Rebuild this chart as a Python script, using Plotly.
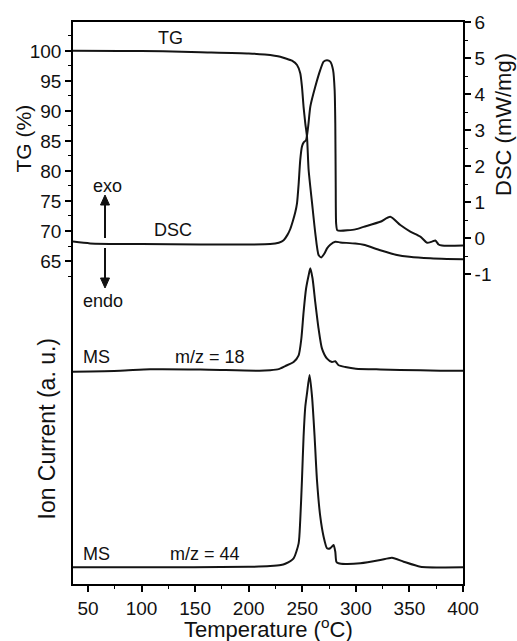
import plotly.graph_objects as go

# ---------------- data ----------------
tg_temp = [36, 80, 120, 155, 200, 215, 229.5, 234.1, 240.4, 245.1, 248.1, 249.7, 251.2,
           252.8, 254.4, 255.9, 259.1, 262.1, 265.2, 267.7, 270.5, 273.1, 276.1, 280.8,
           285.5, 299.5, 307.2, 322.8, 338.4, 350, 369.5, 385, 400]
tg_mass = [100.05, 100.0, 99.95, 99.8, 99.6, 99.4, 99.05, 98.78, 98.38, 97.67, 96.28, 94.05, 90.7,
           87.95, 85.7, 80.2, 74.7, 69.7, 66.0, 65.6, 66.2, 67.1, 67.7, 68.2,
           68.1, 67.9, 67.7, 66.8, 66.0, 65.7, 65.45, 65.35, 65.3]

dsc_temp = [36, 52, 100, 155, 200, 220, 228, 232.6, 236, 238.8, 241, 243.5, 245.1, 246.6,
            248.1, 249.7, 251.2, 253.5, 255.5, 257.5, 262.1, 266.8, 269.9, 273.1, 276.1,
            278.7, 280.2, 280.8, 281.2, 281.6, 282.6, 285.5, 299.5, 307.2, 322.8, 332.1,
            341.5, 350.8, 360.2, 366.4, 371.1, 374.2, 377.2, 380.4, 400]
dsc_heat = [-0.10, -0.15, -0.17, -0.18, -0.18, -0.17, -0.13, -0.06, 0.08, 0.25, 0.45, 0.72, 0.97, 1.5,
            2.17, 2.54, 2.65, 2.72, 3.1, 3.65, 4.20, 4.67, 4.90, 4.94, 4.90,
            4.67, 4.11, 3.19, 1.5, 0.4, 0.22, 0.20, 0.24, 0.31, 0.45, 0.59,
            0.36, 0.18, 0.04, -0.13, -0.10, -0.07, -0.18, -0.21, -0.21]

ms18_temp = [36, 80, 108, 155, 210, 220, 228, 234.1, 241.9, 246.6, 249.1, 251.2, 253.5, 255.9,
             257.5, 259.6, 262.1, 265.2, 268.4, 273.1, 277.7, 280.8, 283.9, 290.2, 300,
             322.8, 360.2, 378.8, 400]
ms18_ion = [-0.01, 0.0, 0.014, 0.012, 0.0, 0.005, 0.015, 0.045, 0.085, 0.15, 0.31, 0.57, 0.80, 0.93,
            1.0, 0.90, 0.67, 0.41, 0.215, 0.117, 0.085, 0.092, 0.053, 0.036, 0.02,
            0.012, 0.004, 0.0, 0.0]

ms44_temp = [36, 100, 200, 220, 230, 234.1, 241.9, 246.6, 248.1, 249.7, 251.2, 252.8, 254.4,
             256.8, 259.1, 261.5, 263.7, 266.8, 269.9, 273.1, 276.1, 279.2, 280.8, 281.8,
             283.9, 290.2, 304.2, 322.8, 333.7, 344.6, 360.2, 400]
ms44_ion = [0.0, 0.0, 0.005, 0.012, 0.022, 0.035, 0.088, 0.234, 0.462, 0.853, 1.275, 1.568, 1.699,
            1.878, 1.666, 1.275, 0.853, 0.494, 0.299, 0.186, 0.186, 0.218, 0.152, 0.055,
            0.039, 0.032, 0.039, 0.071, 0.094, 0.055, 0.006, 0.0]

x_ticks = [50, 100, 150, 200, 250, 300, 350, 400]
x_minor = [75, 125, 175, 225, 275, 325, 375]
tg_ticks = [65, 70, 75, 80, 85, 90, 95, 100]
tg_minor = [62.5, 67.5, 72.5, 77.5, 82.5, 87.5, 92.5, 97.5, 102.5]
dsc_ticks = [-1, 0, 1, 2, 3, 4, 5, 6]
dsc_labels = ["-1", "0", "1", "2", "3", "4", "5", "6"]
dsc_minor = [-0.5, 0.5, 1.5, 2.5, 3.5, 4.5, 5.5]

# ---------------- layout constants ----------------
W, H = 517, 641
ML, MR, MT, MB = 73, 54, 22, 57
PW, PH = W - ML - MR, H - MT - MB
ms18_offset = 2.083
ms44_offset = 0.163
FONT = "Liberation Sans, Arial, sans-serif"
INK = "#141414"


def px(x, y):
    return (x - ML) / PW, (H - MB - y) / PH


fig = go.Figure()
line = dict(color=INK, width=2, shape="spline", smoothing=0.6)
fig.add_trace(go.Scatter(x=tg_temp, y=tg_mass, mode="lines", line=line, yaxis="y"))
fig.add_trace(go.Scatter(x=dsc_temp, y=dsc_heat, mode="lines", line=line, yaxis="y2"))
fig.add_trace(go.Scatter(x=ms18_temp, y=[v + ms18_offset for v in ms18_ion], mode="lines",
                         line=line, yaxis="y3"))
fig.add_trace(go.Scatter(x=ms44_temp, y=[v + ms44_offset for v in ms44_ion], mode="lines",
                         line=line, yaxis="y3"))

axcommon = dict(showline=True, linecolor="black", linewidth=1.6, ticks="outside",
                tickcolor="black", tickwidth=1.5, ticklen=6, showgrid=False, zeroline=False,
                tickfont=dict(family=FONT, size=19, color="#111"))

fig.update_layout(
    width=W, height=H, margin=dict(l=ML, r=MR, t=MT, b=MB),
    paper_bgcolor="white", plot_bgcolor="white", showlegend=False,
    xaxis=dict(range=[36, 400], tickmode="array", tickvals=x_ticks, mirror=True,
               minor=dict(tickmode="array", tickvals=x_minor, ticks="outside", ticklen=3.5,
                          tickwidth=1.2, tickcolor="black"), **axcommon),
    yaxis=dict(range=[11.17, 104.83], tickmode="array", tickvals=tg_ticks,
               minor=dict(tickmode="array", tickvals=tg_minor, ticks="outside", ticklen=3.5,
                          tickwidth=1.2, tickcolor="black"), **axcommon),
    yaxis2=dict(range=[-9.611, 6.0], overlaying="y", side="right", tickmode="array",
                tickvals=dsc_ticks, ticktext=dsc_labels,
                minor=dict(tickmode="array", tickvals=dsc_minor, ticks="outside", ticklen=3.5,
                           tickwidth=1.2, tickcolor="black"), **axcommon),
    yaxis3=dict(range=[0, 5.488], overlaying="y", visible=False),
)

anns = []


def text(s, x, y, size=18, angle=0):
    xp, yp = px(x, y)
    anns.append(dict(text=s, x=xp, y=yp, xref="paper", yref="paper", showarrow=False,
                     xanchor="center", yanchor="middle", textangle=angle,
                     font=dict(family=FONT, size=size, color="#111")))


text("TG", 170, 38.3)
text("DSC", 172.7, 230)
text("exo", 107.3, 185.7)
text("endo", 103.3, 300.7)
text("MS", 96.7, 356.7)
text("m/z = 18", 210, 356.7)
text("MS", 96.7, 554)
text("m/z = 44", 205, 554)
text("TG (%)", 23, 138.5, size=21, angle=-90)
text("Ion Current (a. u.)", 47, 428.5, size=23, angle=-90)
text("DSC (mW/mg)", 503, 125, size=22, angle=-90)
text("Temperature (<sup>o</sup>C)", 268, 628, size=22)
fig.update_layout(annotations=anns)

# exo / endo arrows drawn as shapes (shaft + filled head)
shapes = []
for (tx, tip_y, tail_y) in [(105, 195, 238), (105, 288, 248)]:
    d = 1 if tail_y > tip_y else -1
    head_base = tip_y + d * 10
    x0, y0 = px(tx, tail_y)
    x1, y1 = px(tx, head_base)
    shapes.append(dict(type="line", xref="paper", yref="paper", x0=x0, y0=y0, x1=x1, y1=y1,
                       line=dict(color="#111", width=2)))
    ax, ay = px(tx, tip_y)
    bx1, by = px(tx - 4.5, head_base)
    bx2, _ = px(tx + 4.5, head_base)
    shapes.append(dict(type="path", xref="paper", yref="paper",
                       path=f"M {ax} {ay} L {bx1} {by} L {bx2} {by} Z",
                       fillcolor="#111", line=dict(color="#111", width=1)))
fig.update_layout(shapes=shapes)

fig.write_html("out.html")
